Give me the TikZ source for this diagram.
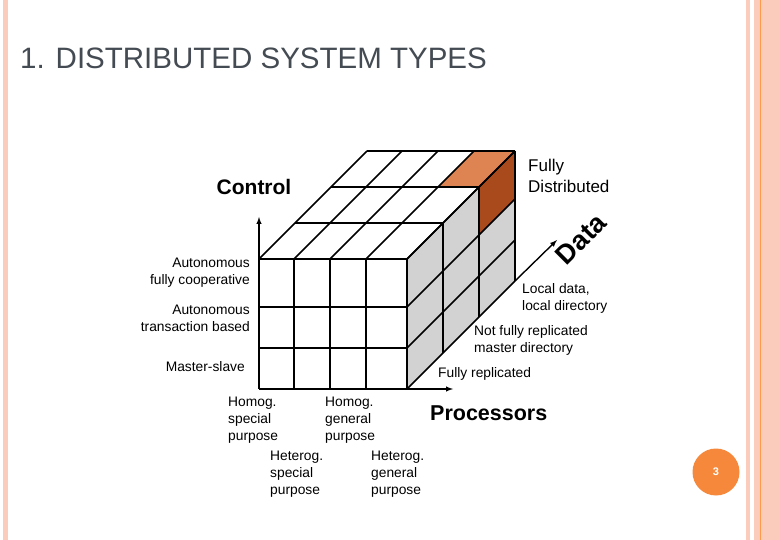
\documentclass[tikz,border=0pt]{standalone}
\usepackage{fontspec}
\setmainfont{Liberation Sans}
\begin{document}
\begin{tikzpicture}[x=1pt,y=-1pt,
  lbl/.style={font=\fontsize{13.8}{17}\selectfont,align=left,inner sep=0,anchor=north west},
  lblr/.style={font=\fontsize{13.8}{17}\selectfont,align=right,inner sep=0,anchor=north east},
  big/.style={font=\bfseries\fontsize{23.5}{24}\selectfont,inner sep=0},
  grid/.style={line width=1.5pt,line join=round},
  ax/.style={line width=1.4pt,-latex}]
\definecolor{pinkb}{HTML}{FBCBBB}
\definecolor{lightor}{HTML}{DE8452}
\definecolor{darkor}{HTML}{A84A1C}
\definecolor{circ}{HTML}{F5883A}
\definecolor{titlec}{HTML}{444B52}
\useasboundingbox (0,0) rectangle (780,540);
\fill[white] (0,0) rectangle (780,540);
% page decorations
\fill[pinkb] (3,0) rectangle (8,540);
\fill[pinkb] (746,0) rectangle (750,540);
\fill[pinkb] (754,0) rectangle (780,540);
\draw[orange!60!pink,line width=1pt] (760,0) -- (760,540);
\node[anchor=west,inner sep=0,text=titlec,font=\fontsize{29.5}{30}\selectfont] (title) at (20,58) {1. DISTRIBUTED SYSTEM TYPES};
% cube fills
\fill[gray!35] (407,259) -- (515,151) -- (515,281) -- (407,389) -- cycle;
\fill[white] (259,259) rectangle (407,389);
\fill[white] (259,259) -- (367,151) -- (515,151) -- (407,259) -- cycle;
\fill[lightor] (438,187) -- (479,187) -- (515,151) -- (474,151) -- cycle;
\fill[darkor] (479,187) -- (515,151) -- (515,199) -- (479,235) -- cycle;
% front grid
\foreach \x in {259,294,330,366,407} \draw[grid] (\x,259) -- (\x,389);
\foreach \y in {259,307,348,389} \draw[grid] (259,\y) -- (407,\y);
% top grid
\foreach \d in {0,36,72,108} \draw[grid] (259+\d,259-\d) -- (407+\d,259-\d);
\foreach \x in {259,294,330,366,407} \draw[grid] (\x,259) -- (\x+108,151);
% right grid
\foreach \d in {0,36,72,108} \draw[grid] (407+\d,259-\d) -- (407+\d,389-\d);
\foreach \y in {259,307,348,389} \draw[grid] (407,\y) -- (515,\y-108);
% axes
\coordinate (o) at (259,389);
\coordinate (cy) at (259,217);
\coordinate (f) at (407,389);
\coordinate (px) at (453,389);
\coordinate (d0) at (515,281);
\coordinate (d1) at (557,240);
\draw[ax] (o) -- (cy);
\draw[ax] (f) -- (px);
\draw[ax] (d0) -- (d1);
% labels
\node[big,font=\bfseries\fontsize{21}{22}\selectfont] (control) at (254,187) {Control};
\node[anchor=north west,inner sep=0,align=left,font=\fontsize{17}{21}\selectfont] (fd) at (528,159) {Fully\\Distributed};
\node[big,font=\bfseries\fontsize{27}{28}\selectfont,rotate=45] (data) at (581,239) {Data};
\node[lblr] (a1) at (250,258) {Autonomous\\fully cooperative};
\node[lblr] (a2) at (250,305) {Autonomous\\transaction based};
\node[lblr] (ms) at (245,361) {Master-slave};
\node[lbl] (ld) at (522,283) {Local data,\\local directory};
\node[lbl] (nf) at (474,325) {Not fully replicated\\master directory};
\node[lbl] (fr) at (438,367) {Fully replicated};
\node[lbl] (h1) at (228,397) {Homog.\\special\\purpose};
\node[lbl] (h2) at (325,397) {Homog.\\general\\purpose};
\node[lbl] (h3) at (270,451) {Heterog.\\special\\purpose};
\node[lbl] (h4) at (371,451) {Heterog.\\general\\purpose};
\node[big,anchor=west,font=\bfseries\fontsize{21.5}{22}\selectfont] (proc) at (430,413) {Processors};
\node[circle,fill=circ,minimum size=47pt,inner sep=0,text=white,font=\bfseries\fontsize{11}{12}\selectfont] (pg) at (716,472) {3};
\end{tikzpicture}
\end{document}
